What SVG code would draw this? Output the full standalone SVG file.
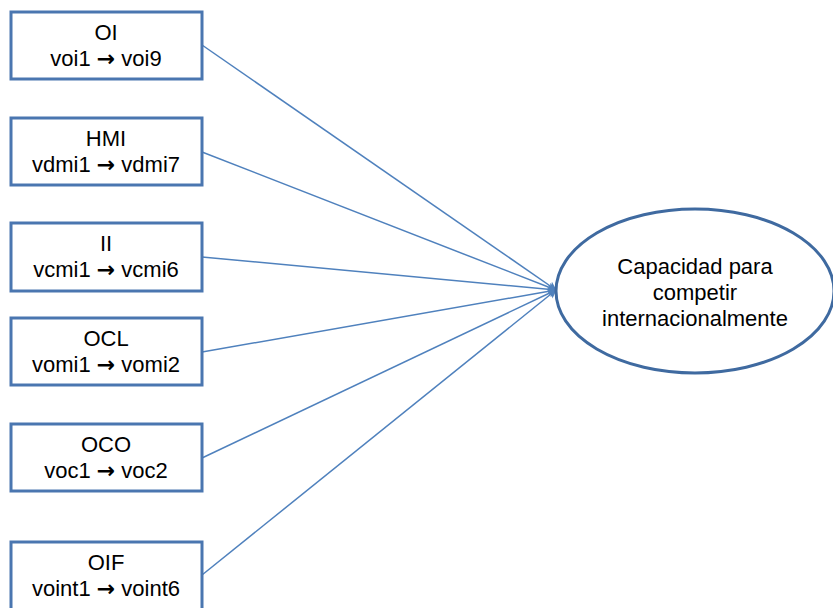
<svg xmlns="http://www.w3.org/2000/svg" width="833" height="608" viewBox="0 0 833 608">
  <style>
    .box { fill: #ffffff; stroke: #4a76b0; stroke-width: 3; }
    .oval { fill: #ffffff; stroke: #3f6aa0; stroke-width: 3; }
    .lbl { font-family: "Liberation Sans", Arial, sans-serif; font-size: 22px; fill: #000000; text-anchor: middle; }
    .arw { font-family: "DejaVu Sans", sans-serif; font-weight: bold; font-size: 22px; }
    .link { stroke: #4f81bd; stroke-width: 1.5; fill: none; marker-end: url(#head); }
  </style>
  <defs>
    <marker id="head" viewBox="0 0 10 10" refX="9" refY="5" markerWidth="9" markerHeight="9" markerUnits="userSpaceOnUse" orient="auto">
      <path d="M0,0 L10,5 L0,10 L2.5,5 Z" fill="#4f81bd"/>
    </marker>
  </defs>
  <rect width="833" height="608" fill="#ffffff"/>

  <g id="connectors">
    <line class="link" x1="202" y1="45" x2="556" y2="290"/>
    <line class="link" x1="202" y1="152" x2="556" y2="290"/>
    <line class="link" x1="202" y1="257" x2="556" y2="290"/>
    <line class="link" x1="202" y1="352" x2="556" y2="290"/>
    <line class="link" x1="202" y1="458" x2="556" y2="290"/>
    <line class="link" x1="202" y1="575" x2="556" y2="290"/>
  </g>

  <g id="oi">
    <rect class="box" x="11" y="12" width="191" height="67"/>
    <text class="lbl" x="106" y="40">OI</text>
    <text class="lbl" x="106" y="66">voi1 <tspan class="arw">→</tspan> voi9</text>
  </g>
  <g id="hmi">
    <rect class="box" x="11" y="118" width="191" height="67"/>
    <text class="lbl" x="106" y="146">HMI</text>
    <text class="lbl" x="106" y="172">vdmi1 <tspan class="arw">→</tspan> vdmi7</text>
  </g>
  <g id="ii">
    <rect class="box" x="11" y="223" width="191" height="68"/>
    <text class="lbl" x="106" y="251">II</text>
    <text class="lbl" x="106" y="277">vcmi1 <tspan class="arw">→</tspan> vcmi6</text>
  </g>
  <g id="ocl">
    <rect class="box" x="11" y="318" width="191" height="67"/>
    <text class="lbl" x="106" y="346">OCL</text>
    <text class="lbl" x="106" y="372">vomi1 <tspan class="arw">→</tspan> vomi2</text>
  </g>
  <g id="oco">
    <rect class="box" x="11" y="424" width="191" height="67"/>
    <text class="lbl" x="106" y="452">OCO</text>
    <text class="lbl" x="106" y="478">voc1 <tspan class="arw">→</tspan> voc2</text>
  </g>
  <g id="oif">
    <rect class="box" x="11" y="542" width="191" height="80"/>
    <text class="lbl" x="106" y="570">OIF</text>
    <text class="lbl" x="106" y="596">voint1 <tspan class="arw">→</tspan> voint6</text>
  </g>

  <g id="capacidad">
    <ellipse class="oval" cx="695" cy="291" rx="139" ry="82"/>
    <text class="lbl" x="695" y="274">Capacidad para</text>
    <text class="lbl" x="695" y="300">competir</text>
    <text class="lbl" x="695" y="326">internacionalmente</text>
  </g>
</svg>
